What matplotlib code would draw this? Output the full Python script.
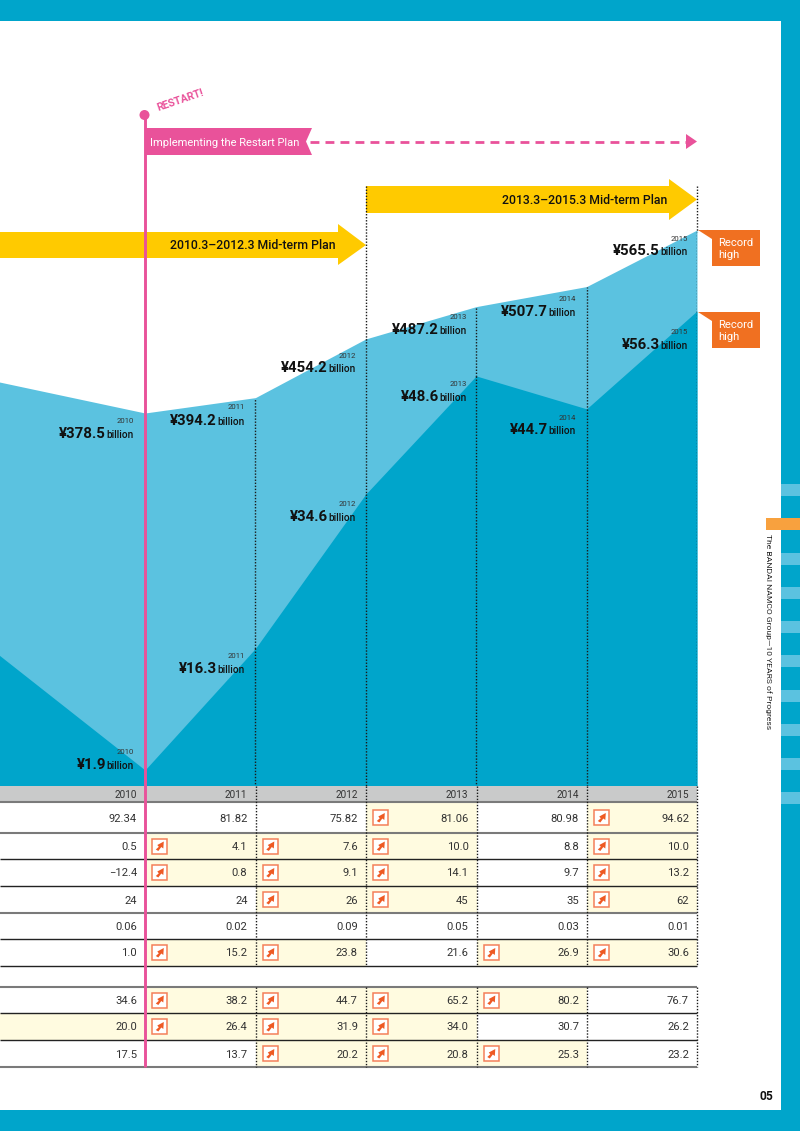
import matplotlib
matplotlib.use("Agg")
import matplotlib.pyplot as plt
from matplotlib.patches import Polygon, Rectangle, Circle

# ---------- data ----------
years = [2010, 2011, 2012, 2013, 2014, 2015]
area_x = [2008.68, 2010, 2011, 2012, 2013, 2014, 2015]
net_sales = [410.2, 378.5, 394.2, 454.2, 487.2, 507.7, 565.5]
op_income = [15.5, 1.9, 16.3, 34.6, 48.6, 44.7, 56.3]

r_a = [92.34, 81.82, 75.82, 81.06, 80.98, 94.62]
r_b = [0.5, 4.1, 7.6, 10.0, 8.8, 10.0]
r_c = [-12.4, 0.8, 9.1, 14.1, 9.7, 13.2]
r_d = [24, 24, 26, 45, 35, 62]
r_e = [0.06, 0.02, 0.09, 0.05, 0.03, 0.01]
r_f = [1.0, 15.2, 23.8, 21.6, 26.9, 30.6]
r_g = [34.6, 38.2, 44.7, 65.2, 80.2, 76.7]
r_h = [20.0, 26.4, 31.9, 34.0, 30.7, 26.2]
r_i = [17.5, 13.7, 20.2, 20.8, 25.3, 23.2]
table_rows = [r_a, r_b, r_c, r_d, r_e, r_f, r_g, r_h, r_i]
row_decimals = [2, 1, 1, 0, 2, 1, 1, 1, 1]
# up-arrow flags per year column
up_a = [0, 0, 0, 1, 0, 1]
up_b = [0, 1, 1, 1, 0, 1]
up_c = [0, 1, 1, 1, 0, 1]
up_d = [0, 0, 1, 1, 0, 1]
up_e = [0, 0, 0, 0, 0, 0]
up_f = [0, 1, 1, 0, 1, 1]
up_g = [0, 1, 1, 1, 1, 0]
up_h = [0, 1, 1, 1, 0, 0]
up_i = [0, 0, 1, 1, 1, 0]
table_up = [up_a, up_b, up_c, up_d, up_e, up_f, up_g, up_h, up_i]

# ---------- style ----------
FONT = ["Roboto", "DejaVu Sans"]
plt.rcParams["font.family"] = FONT
TEAL = "#00A5CB"
LIGHT = "#5BC2E0"
PINK = "#E9529A"
YELLOW = "#FFCA00"
ORANGE = "#F07021"
TAB = "#F8A13E"
CREAM = "#FFFBE0"
GREY = "#C9CACA"
W, H = 800, 1131

def px(v):
    return v * 72 / 100

fig = plt.figure(figsize=(W / 100, H / 100), dpi=100, facecolor="white")

# chart axes: left page edge to the 2015 column, baseline y=786, top y=230
PX_PER_YEAR = (697 - 145) / 5
ax = fig.add_axes([0, 1 - 786 / H, 697 / W, (786 - 230) / H], zorder=1)
ax.set_xlim(2010 - 145 / PX_PER_YEAR, 2015)
ax.set_ylim(-2.66, 565.5)
ax.axis("off")
ax.fill_between(area_x, net_sales, -2.66, color=LIGHT, lw=0, zorder=1)
ax.vlines(years[1:], -2.66, net_sales[2:], color="#1a1a1a", lw=1, linestyles=(0, (1, 1.2)), zorder=4)

ax2 = fig.add_axes(ax.get_position(), zorder=2)
ax2.patch.set_alpha(0)
ax2.set_xlim(ax.get_xlim())
ax2.set_ylim(0, (786 - 230) / 8.4375)
ax2.axis("off")
ax2.fill_between(area_x, op_income, 0, color=TEAL, lw=0, zorder=1)
ax2.vlines(years[1:], op_income[2:], 0, color="#1a1a1a", lw=1, linestyles=(0, (1, 1.2)), zorder=4)

# overlay in page pixels for layout furniture and table
o = fig.add_axes([0, 0, 1, 1], zorder=3)
o.patch.set_alpha(0)
o.set_xlim(0, W)
o.set_ylim(H, 0)
o.axis("off")

# page frame
o.add_patch(Rectangle((781, 0), 19, H, color=TEAL, lw=0))
o.add_patch(Rectangle((0, 0), W, 21, color=TEAL, lw=0))
o.add_patch(Rectangle((0, 1110), W, 21, color=TEAL, lw=0))
for y in [484, 553, 587, 621, 655, 690, 724, 758, 792]:
    o.add_patch(Rectangle((781, y), 19, 12, color=LIGHT, lw=0))
o.add_patch(Rectangle((766, 518), 34, 12, color=TAB, lw=0))
o.text(768.5, 632, "The BANDAI NAMCO Group\u201410 YEARS of Progress", rotation=-90,
       ha="center", va="center", fontsize=px(8.45), color="#222")
o.text(773, 1096, "05", ha="right", va="center", fontsize=px(12), fontweight="bold", color="#111")

# table geometry
col_edges = [0, 145, 255.5, 366, 476.5, 587, 697]
row_tops = [802, 833, 859, 886, 913, 939, 987, 1013, 1040]
row_bots = [833, 859, 886, 913, 939, 966, 1013, 1040, 1067]
line_style = {802: "g", 833: "g", 859: "d", 886: "d", 913: "g", 939: "d", 966: "d",
              987: "g", 1013: "d", 1040: "d", 1067: "g"}

o.add_patch(Rectangle((0, 786), 697, 16, color=GREY, lw=0, zorder=1))
for i, yr in enumerate(years):
    o.text(col_edges[i + 1] - 8, 795, str(yr), ha="right", va="center",
           fontsize=px(10), color="#333", zorder=6)

def icon(x, yc):
    o.add_patch(Rectangle((x, yc - 7.5), 15, 15, fc="white", ec="#F4805A", lw=1.1, zorder=5))
    o.add_patch(Polygon([(x + 3.5, yc + 3.5), (x + 6.5, yc + 0.8), (x + 5, yc - 1), (x + 11.5, yc - 4.5),
                         (x + 11, yc + 2.5), (x + 9, yc + 1), (x + 6, yc + 5)],
                        fc="#EE5A24", lw=0, zorder=6))

for r, vals in enumerate(table_rows):
    top, bot = row_tops[r], row_bots[r]
    yc = (top + bot) / 2
    for c, v in enumerate(vals):
        left, right = col_edges[c], col_edges[c + 1]
        if table_up[r][c]:
            o.add_patch(Rectangle((left, top), right - left, bot - top, fc=CREAM, lw=0, zorder=1))
            icon(left + 7.3, yc)
        s = f"{v:.{row_decimals[r]}f}".replace("-", "\u2212")
        o.text(right - 8, yc + 1, s, ha="right", va="center", fontsize=px(11.2), color="#333", zorder=6)
# cream 2010 cell of the eighth row (no arrow)
o.add_patch(Rectangle((0, row_tops[7]), 145, row_bots[7] - row_tops[7], fc=CREAM, lw=0, zorder=1))

for y, k in line_style.items():
    o.plot([0, 697], [y, y], color="#7a7a7a" if k == "g" else "#222", lw=1.5 if k == "g" else 1.0,
           solid_capstyle="butt", zorder=3)

# table dotted separators (also through header)
for x in col_edges[2:]:
    for y0, y1 in [(786, 966), (987, 1067)]:
        o.plot([x, x], [y0, y1], color="#1a1a1a", lw=1, ls=(0, (1, 1.2)), zorder=4)
# extensions up to the plan arrows
for x, y0, y1 in [(366, 186, 340), (697, 186, 232)]:
    o.plot([x, x], [y0, y1], color="#1a1a1a", lw=1, ls=(0, (1, 1.2)), zorder=4)

# plan arrows
o.add_patch(Polygon([(0, 232), (338, 232), (338, 224), (366, 245), (338, 265), (338, 258), (0, 258)],
                    fc=YELLOW, lw=0, zorder=2))
o.add_patch(Polygon([(366, 186), (669, 186), (669, 179), (697, 199.5), (669, 220), (669, 213), (366, 213)],
                    fc=YELLOW, lw=0, zorder=2))
o.text(336, 245.5, "2010.3\u20132012.3 Mid-term Plan", ha="right", va="center",
       fontsize=px(12.3), color="#111", fontweight="medium", zorder=6)
o.text(667, 200, "2013.3\u20132015.3 Mid-term Plan", ha="right", va="center",
       fontsize=px(12.3), color="#111", fontweight="medium", zorder=6)

# restart flag
o.add_patch(Polygon([(145, 128), (312, 128), (306, 141.5), (312, 155), (145, 155)], fc=PINK, lw=0, zorder=5))
o.text(150, 143, "Implementing the Restart Plan", ha="left", va="center",
       fontsize=px(11.1), color="white", zorder=6)
o.plot([310, 688], [141.5, 141.5], color=PINK, lw=2, ls=(0, (3.2, 2.2)), zorder=5)
o.add_patch(Polygon([(686, 134), (697, 141.5), (686, 149)], fc=PINK, lw=0, zorder=5))
o.plot([144.7, 144.7], [115, 1067], color=PINK, lw=2.1, solid_capstyle="butt", zorder=7)
o.add_patch(Circle((144.5, 115), 5, fc=PINK, lw=0, zorder=7))
o.text(180, 100, "RESTART!", rotation=19, ha="center", va="center", rotation_mode="anchor",
       fontsize=px(10.5), color=PINK, fontweight="bold", zorder=6)

# value labels
sales_lab = [(134, 421, 433), (245, 407, 420), (356, 356, 367), (467, 317, 329), (576, 299, 311), (688, 239, 250)]
inc_lab = [(134, 752, 764), (245, 656, 668), (356, 504, 516), (467, 384, 396), (576, 418, 429), (688, 332, 344)]
for series, labs in [(net_sales[1:], sales_lab), (op_income[1:], inc_lab)]:
    for yr, v, (xr, yy, yv) in zip(years, series, labs):
        o.text(xr, yy, str(yr), ha="right", va="center", fontsize=px(7.8), color="#333", zorder=6)
        o.text(xr, yv + 2, "billion", ha="right", va="center", fontsize=px(10), fontweight="medium", color="#111", zorder=6)
        o.text(xr - 28, yv + 1, f"\u00a5{v:.1f}", ha="right", va="center", fontsize=px(15), fontweight="bold", color="#111", zorder=6)

# record-high callouts
for top in [230, 312]:
    o.add_patch(Polygon([(698, top), (760, top), (760, top + 36), (712, top + 36), (712, top + 9)],
                        fc=ORANGE, lw=0, zorder=5))
    o.text(718, top + 13, "Record", ha="left", va="center", fontsize=px(11.2), color="white", zorder=6)
    o.text(718, top + 25, "high", ha="left", va="center", fontsize=px(11.2), color="white", zorder=6)

fig.savefig("out.png", dpi=100, facecolor="white")
